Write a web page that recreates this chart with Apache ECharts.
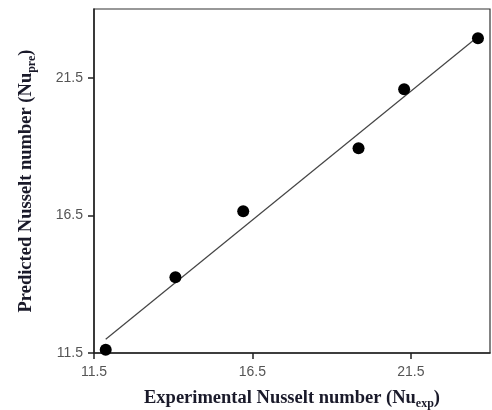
<!DOCTYPE html>
<html>
<head>
<meta charset="utf-8">
<script src="https://cdn.jsdelivr.net/npm/echarts@6/dist/echarts.min.js"></script>
<style>html,body{margin:0;padding:0;background:#fff}#c{width:492px;height:410px}</style>
</head>
<body>
<div id="c"></div>
<script>
const expNu = [11.87, 14.07, 16.21, 19.85, 21.29, 23.62];
const preNu = [11.62, 14.25, 16.65, 18.94, 21.08, 22.94];
const fitX = [11.87, 23.5];
const fitY = [12.0, 22.88];
const tickValues = [11.5, 16.5, 21.5];
const xTitle = 'Experimental Nusselt number (Nu';
const xSub = 'exp';
const yTitle = 'Predicted Nusselt number (Nu';
const ySub = 'pre';

const chart = echarts.init(document.getElementById('c'), null, {renderer: 'canvas'});
const titleStyle = {
  fontFamily: '"Liberation Serif", "Times New Roman", serif',
  fontWeight: 'bold', fontSize: 18.5, color: '#1a1a2a',
  rich: {
    sub: {fontFamily: '"Liberation Serif", serif', fontWeight: 'bold', fontSize: 12, color: '#1a1a2a', padding: [11, 0, 0, 0]}
  }
};
const labelStyle = {fontFamily: '"Liberation Sans", Arial, sans-serif', fontSize: 14, color: '#555'};
function axis(name, gap, isY) {
  return {
    type: 'value', min: tickValues[0], max: 24, interval: tickValues[1] - tickValues[0],
    name: name, nameLocation: 'middle', nameGap: gap,
    nameTextStyle: titleStyle,
    axisLine: {show: true, lineStyle: {color: '#222', width: 1.5}},
    axisTick: {show: true, inside: false, length: 6, lineStyle: {color: '#222', width: 1.5, opacity: 1}},
    axisLabel: Object.assign({showMaxLabel: false, margin: isY ? 11 : 12, formatter: v => v.toFixed(1)}, labelStyle),
    splitLine: {show: false}
  };
}
chart.setOption({
  animation: false,
  grid: {left: 94, top: 9, right: 2, bottom: 57, containLabel: false, outerBoundsMode: 'none', show: true, borderColor: '#333', borderWidth: 1.2, backgroundColor: 'transparent'},
  xAxis: axis(xTitle + '{sub|' + xSub + '})', 34, false),
  yAxis: Object.assign(axis(yTitle + '{sub|' + ySub + '})', 56, true), {nameRotate: 90}),
  series: [
    {type: 'line', data: fitX.map((x, i) => [x, fitY[i]]), symbol: 'none', lineStyle: {color: '#444', width: 1.2}, z: 1},
    {type: 'scatter', data: expNu.map((x, i) => [x, preNu[i]]), symbol: 'circle', symbolSize: 12, itemStyle: {color: '#000', opacity: 1}, z: 2}
  ]
});
</script>
</body>
</html>
